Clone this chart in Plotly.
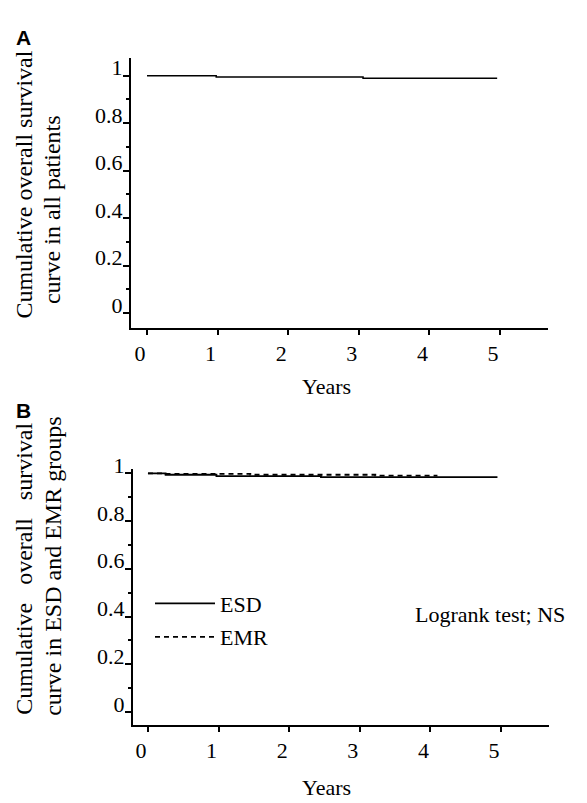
import plotly.graph_objects as go

W, H = 587, 803

# ---------------- data ----------------
a_years = [0, 0.98, 3.06, 4.96]
a_surv = [1.0, 0.995, 0.989, 0.989]

esd_years = [0, 0.25, 0.97, 2.45, 4.95]
esd_surv = [1.0, 0.994, 0.988, 0.984, 0.984]

emr_years = [0, 0.25, 1.45, 3.22, 4.10]
emr_surv = [1.0, 0.998, 0.994, 0.990, 0.990]

x_ticks = [0, 1, 2, 3, 4, 5]
x_tick_labels = ["0", "1", "2", "3", "4", "5"]
y_ticks = [0, 0.2, 0.4, 0.6, 0.8, 1]
y_tick_labels = ["0", "0.2", "0.4", "0.6", "0.8", "1"]
y_minor_ticks = [0.1, 0.3, 0.5, 0.7, 0.9]


def px(x):
    return x / W


def py(y):
    return 1 - y / H


SERIF = "Liberation Serif"
SANS = "Liberation Sans"
tick_font = dict(family=SERIF, size=22, color="black")

fig = go.Figure()

fig.add_trace(go.Scatter(x=a_years, y=a_surv, mode="lines", line_shape="hv",
                         line=dict(color="black", width=1.5), showlegend=False,
                         xaxis="x", yaxis="y"))
fig.add_trace(go.Scatter(x=esd_years, y=esd_surv, mode="lines", line_shape="hv",
                         name="ESD", legendgroup="esd",
                         line=dict(color="black", width=1.8),
                         xaxis="x2", yaxis="y2"))
fig.add_trace(go.Scatter(x=emr_years, y=emr_surv, mode="lines", line_shape="hv",
                         name="EMR", legendgroup="emr",
                         line=dict(color="black", width=1.8, dash="5px,4px"),
                         xaxis="x2", yaxis="y2"))


def xaxis_cfg(domain, rng, anchor):
    return dict(domain=domain, range=rng, anchor=anchor, showline=True,
                linecolor="black", linewidth=2, ticks="outside", ticklen=5,
                tickwidth=1.5, tickcolor="black", showgrid=False, zeroline=False,
                tickmode="array", tickvals=x_ticks, ticktext=x_tick_labels,
                tickfont=tick_font, ticklabelshift=-7, fixedrange=True)


def yaxis_cfg(domain, rng, anchor):
    return dict(domain=domain, range=rng, anchor=anchor, showline=True,
                linecolor="black", linewidth=2, ticks="outside", ticklen=6,
                tickwidth=1.5, tickcolor="black", showgrid=False, zeroline=False,
                tickmode="array", tickvals=y_ticks, ticktext=y_tick_labels,
                tickfont=tick_font, ticklabelshift=-8, ticklabelstandoff=-4,
                minor=dict(tickmode="array", tickvals=y_minor_ticks, ticks="outside",
                           ticklen=3, tickwidth=1.5, tickcolor="black", showgrid=False),
                fixedrange=True)


fig.update_layout(
    width=W, height=H,
    margin=dict(l=0, r=0, t=0, b=0),
    paper_bgcolor="white", plot_bgcolor="white",
    xaxis=xaxis_cfg([px(131), px(548)], [-0.227, 5.68], "y"),
    yaxis=yaxis_cfg([py(318), py(43)], [-0.062, 1.074], "x"),
    xaxis2=xaxis_cfg([px(133), px(549)], [-0.212, 5.68], "y2"),
    yaxis2=yaxis_cfg([py(723), py(462)], [-0.053, 1.019], "x2"),
    showlegend=True,
    legend=dict(x=px(150), y=py(578), xanchor="left", yanchor="top",
                font=dict(family=SERIF, size=22, color="black"),
                bgcolor="rgba(0,0,0,0)", tracegroupgap=2, itemwidth=60),
)

ann = []
# panel letters
ann.append(dict(text="<b>A</b>", x=px(23), y=py(22),
                font=dict(family=SANS, size=21, color="black")))
ann.append(dict(text="<b>B</b>", x=px(23), y=py(403),
                font=dict(family=SANS, size=21, color="black")))
# y titles panel A
ann.append(dict(text="Cumulative overall survival", x=px(24), y=py(172), textangle=-90,
                font=dict(family=SERIF, size=24, color="black")))
ann.append(dict(text="curve in all patients", x=px(52), y=py(198), textangle=-90,
                font=dict(family=SERIF, size=24, color="black")))
# y titles panel B
ann.append(dict(text="Cumulative\u00a0\u00a0\u00a0overall\u00a0\u00a0\u00a0survival", x=px(24), y=py(564),
                textangle=-90, font=dict(family=SERIF, size=24, color="black")))
ann.append(dict(text="curve in ESD and EMR groups", x=px(53), y=py(562), textangle=-90,
                font=dict(family=SERIF, size=24, color="black")))
# x titles
ann.append(dict(text="Years", x=px(326), y=py(378),
                font=dict(family=SERIF, size=22, color="black")))
ann.append(dict(text="Years", x=px(326), y=py(787),
                font=dict(family=SERIF, size=22, color="black")))
# logrank
ann.append(dict(text="Logrank test; NS", x=px(489.5), y=py(611),
                font=dict(family=SERIF, size=22, color="black")))

fig.update_layout(annotations=[dict(a, xref="paper", yref="paper", showarrow=False,
                                    xanchor="center", yanchor="middle") for a in ann])

fig.write_html("out.html")
